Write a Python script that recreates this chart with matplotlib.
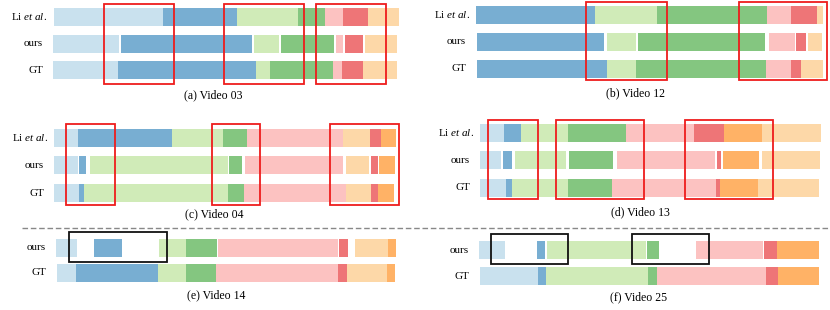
import matplotlib
matplotlib.use('Agg')
import matplotlib.pyplot as plt
from matplotlib.patches import Rectangle
from matplotlib.lines import Line2D

plt.rcParams['font.family'] = ['Liberation Serif', 'DejaVu Serif']
plt.rcParams['mathtext.fontset'] = 'custom'
plt.rcParams['mathtext.rm'] = 'Liberation Serif'
plt.rcParams['mathtext.it'] = 'Liberation Serif:italic'

# action classes 0..7 -> Paired colours, drawn with alpha
class_colors = ['#a6cee3', '#1f78b4', '#b2df8a', '#33a02c',
                '#fb9a99', '#e31a1c', '#fdbf6f', '#ff7f00']

li_label = r'Li $\it{et\ al.}$'

# segments: (start, end, class) on each video's timeline
v03_li = [(1, 110, 0), (110, 184, 1), (184, 245, 2), (245, 272, 3), (272, 290, 4), (290, 315, 5), (315, 346, 6)]
v03_ours = [(0, 66, 0), (68, 199, 1), (201, 226, 2), (228, 281, 3), (283, 290, 4), (292, 310, 5), (312, 344, 6)]
v03_gt = [(0, 65, 0), (65, 203, 1), (203, 217, 2), (217, 280, 3), (280, 289, 4), (289, 310, 5), (310, 344, 6)]
v03_boxes = [(51, 121), (171, 251), (263, 333)]

v12_li = [(0, 119, 1), (119, 181, 2), (181, 291, 3), (291, 315, 4), (315, 341, 5), (341, 347, 6)]
v12_ours = [(1, 128, 1), (131, 160, 2), (162, 289, 3), (293, 319, 4), (320, 330, 5), (332, 346, 6)]
v12_gt = [(1, 131, 1), (131, 160, 2), (160, 290, 3), (290, 315, 4), (315, 325, 5), (325, 347, 6)]
v12_boxes = [(110, 191), (263, 351)]

v04_li = [(0, 24, 0), (24, 118, 1), (118, 169, 2), (169, 193, 3), (193, 289, 4), (289, 316, 6), (316, 327, 5), (327, 342, 7)]
v04_ours = [(0, 24, 0), (25, 32, 1), (36, 174, 2), (175, 188, 3), (191, 289, 4), (292, 315, 6), (317, 324, 5), (325, 341, 7)]
v04_gt = [(0, 25, 0), (25, 30, 1), (30, 174, 2), (174, 190, 3), (190, 292, 4), (292, 317, 6), (317, 324, 5), (324, 340, 7)]
v04_boxes = [(12, 61), (158, 206), (276, 345)]

v13_li = [(0, 24, 0), (24, 41, 1), (41, 88, 2), (88, 146, 3), (146, 214, 4), (214, 244, 5), (244, 282, 7), (282, 341, 6)]
v13_ours = [(0, 21, 0), (23, 32, 1), (35, 86, 2), (89, 133, 3), (137, 235, 4), (237, 241, 5), (243, 279, 7), (282, 340, 6)]
v13_gt = [(0, 26, 0), (26, 32, 1), (32, 88, 2), (88, 132, 3), (132, 236, 4), (236, 240, 5), (240, 278, 7), (278, 339, 6)]
v13_boxes = [(8, 58), (76, 164), (205, 293)]

v14_ours = [(0, 21, 0), (38, 66, 1), (103, 130, 2), (130, 161, 3), (162, 282, 4), (283, 292, 5), (299, 332, 6), (332, 340, 7)]
v14_gt = [(1, 20, 0), (20, 102, 1), (102, 130, 2), (130, 160, 3), (160, 282, 4), (282, 291, 5), (291, 331, 6), (331, 339, 7)]
v14_boxes = [(13, 111)]

v25_ours = [(0, 26, 0), (58, 66, 1), (68, 167, 2), (168, 180, 3), (217, 284, 4), (285, 298, 5), (298, 340, 7)]
v25_gt = [(1, 59, 0), (59, 67, 1), (67, 169, 2), (169, 178, 3), (178, 287, 4), (287, 299, 5), (299, 340, 7)]
v25_boxes = [(12, 89), (153, 230)]

W, H = 830, 310
fig = plt.figure(figsize=(W / 100, H / 100), dpi=100)


def panel(ox, row_top, gap, labels, rows, boxes, box_y, box_color, caption, cap_y):
    n = len(rows)
    rect = [(ox - 55) / W, 1 - (row_top + n * gap) / H, 410 / W, (n + 1) * gap / H]
    ax = fig.add_axes(rect)
    ax.set_xlim(-55, 355)
    ax.set_ylim(n, -1)
    ax.axis('off')
    bh = 18 / gap
    for i, segs in enumerate(rows):
        for s, e, c in segs:
            ax.broken_barh([(s, e - s)], (i - bh / 2, bh), facecolors=class_colors[c],
                           alpha=0.6, linewidth=0)
        lab = labels[i]
        ax.text(-6 if lab == li_label else -10, i, lab, ha='right', va='center', fontsize=8)
    for b0, b1 in boxes:
        ax.add_patch(Rectangle((b0, box_y[0]), b1 - b0, box_y[1] - box_y[0], fill=False,
                               edgecolor=box_color, linewidth=1.3, clip_on=False))
    ax.text(160, cap_y, caption, ha='center', va='center', fontsize=8.5, clip_on=False)
    return ax


panel(53, 17, 26.7, [li_label, 'ours', 'GT'], [v03_li, v03_ours, v03_gt],
      v03_boxes, (-0.47, 2.5), '#ee1c1c', '(a) Video 03', 2.92)
panel(476, 15, 26.9, [li_label, 'ours', 'GT'], [v12_li, v12_ours, v12_gt],
      v12_boxes, (-0.49, 2.43), '#ee1c1c', '(b) Video 12', 2.9)
panel(54, 137.5, 27.75, [li_label, 'ours', 'GT'], [v04_li, v04_ours, v04_gt],
      v04_boxes, (-0.48, 2.43), '#ee1c1c', '(c) Video 04', 2.76)
panel(480, 133, 27.25, [li_label, 'ours', 'GT'], [v13_li, v13_ours, v13_gt],
      v13_boxes, (-0.48, 2.42), '#ee1c1c', '(d) Video 13', 2.92)
panel(56, 248, 24.5, ['ours', 'GT'], [v14_ours, v14_gt],
      v14_boxes, (-0.64, 0.56), '#111111', '(e) Video 14', 1.95)
panel(479, 250.3, 26, ['ours', 'GT'], [v25_ours, v25_gt],
      v25_boxes, (-0.63, 0.53), '#111111', '(f) Video 25', 1.82)

# dashed separator between the two groups
fig.add_artist(Line2D([22 / W, 829 / W], [1 - 228.3 / H] * 2, transform=fig.transFigure,
                      color='#888888', linewidth=1.0, linestyle=(0, (4, 2))))

fig.savefig('out.png', dpi=100)
